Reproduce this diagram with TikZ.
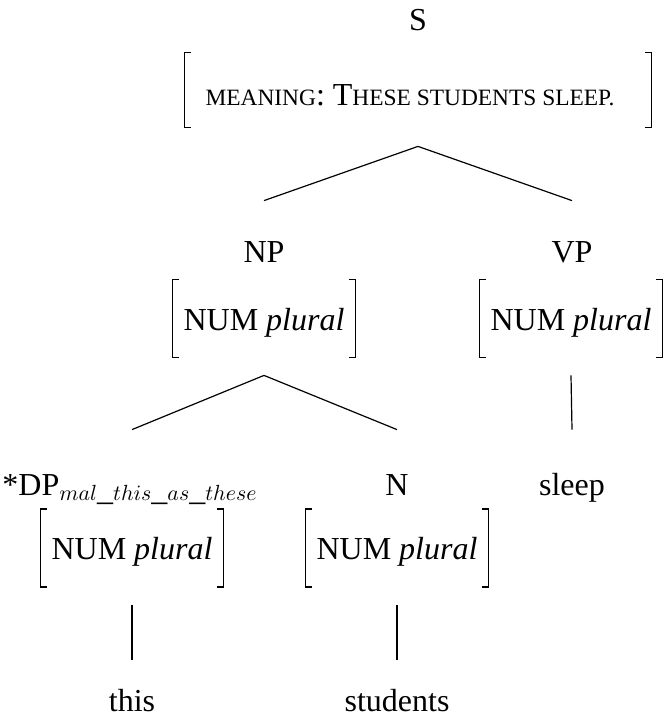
\documentclass[tikz,border=0pt]{standalone}
\usepackage{fontspec}
\setmainfont{Liberation Serif}
\newcommand{\fsc}[1]{{\fontsize{11.7}{14}\selectfont #1}}

\begin{document}
\begin{tikzpicture}[x=0.5pt, y=-0.5pt,
  font=\fontsize{16}{19}\selectfont,
  catnode/.style={inner sep=0, text height=11pt, text depth=4pt, anchor=base},
  avmnode/.style={inner sep=0, minimum width=91pt, minimum height=38.5pt, text height=13pt, text depth=1.5pt},
  branch/.style={line width=0.6pt},
  brack/.style={line width=0.8pt},
]
\useasboundingbox (0,0) rectangle (665,722);
%%%top
\node[catnode] (nS) at (418,31) {S};
\node[avmnode, minimum width=233pt, minimum height=37pt, text height=15pt, text depth=0pt] (aS) at (418,90)
  {\fsc{MEANING}: T\fsc{HESE STUDENTS SLEEP.}\hspace*{8pt}};
%%%second row
\node[catnode] (nNP) at (264,262) {NP};
\node[avmnode] (aNP) at (264,318.5) {NUM \textit{plural}};
\node[catnode] (nVP) at (572,262) {VP};
\node[avmnode] (aVP) at (571,318.5) {NUM \textit{plural}};
%%%third row
\node[catnode] (nDP) at (130,495) {*DP$_{mal\_this\_as\_these}$};
\node[avmnode] (aDP) at (132,548) {NUM \textit{plural}};
\node[catnode] (nN) at (397,495) {N};
\node[avmnode] (aN) at (397,548) {NUM \textit{plural}};
\node[catnode] (nsleep) at (572,495) {sleep};
%%%words
\node[catnode] (nthis) at (132,711) {this};
\node[catnode] (nstudents) at (397,711) {students};
%%%brackets
\foreach \a in {aS,aNP,aVP,aDP,aN} {
  \draw[brack] ([xshift=3pt]\a.north west) -- (\a.north west) -- (\a.south west) -- ([xshift=3pt]\a.south west);
  \draw[brack] ([xshift=-3pt]\a.north east) -- (\a.north east) -- (\a.south east) -- ([xshift=-3pt]\a.south east);
}
%%%branches
\draw[branch] ([yshift=-9.5pt]aS.south) -- ([yshift=19.5pt]nNP.north);
\draw[branch] ([yshift=-9.5pt]aS.south) -- ([yshift=19.5pt]nVP.north);
\draw[branch] ([yshift=-9pt]aNP.south) -- ([yshift=21.5pt]nDP.north -| aDP.north);
\draw[branch] ([yshift=-9pt]aNP.south) -- ([yshift=21.5pt]nN.north);
\draw[branch] ([yshift=-9pt]aVP.south) -- ([yshift=21.5pt]nsleep.north);
\draw[branch] ([yshift=-9pt]aDP.south) -- ([yshift=14.5pt]nthis.north);
\draw[branch] ([yshift=-9pt]aN.south) -- ([yshift=14.5pt]nstudents.north);
\end{tikzpicture}
\end{document}
